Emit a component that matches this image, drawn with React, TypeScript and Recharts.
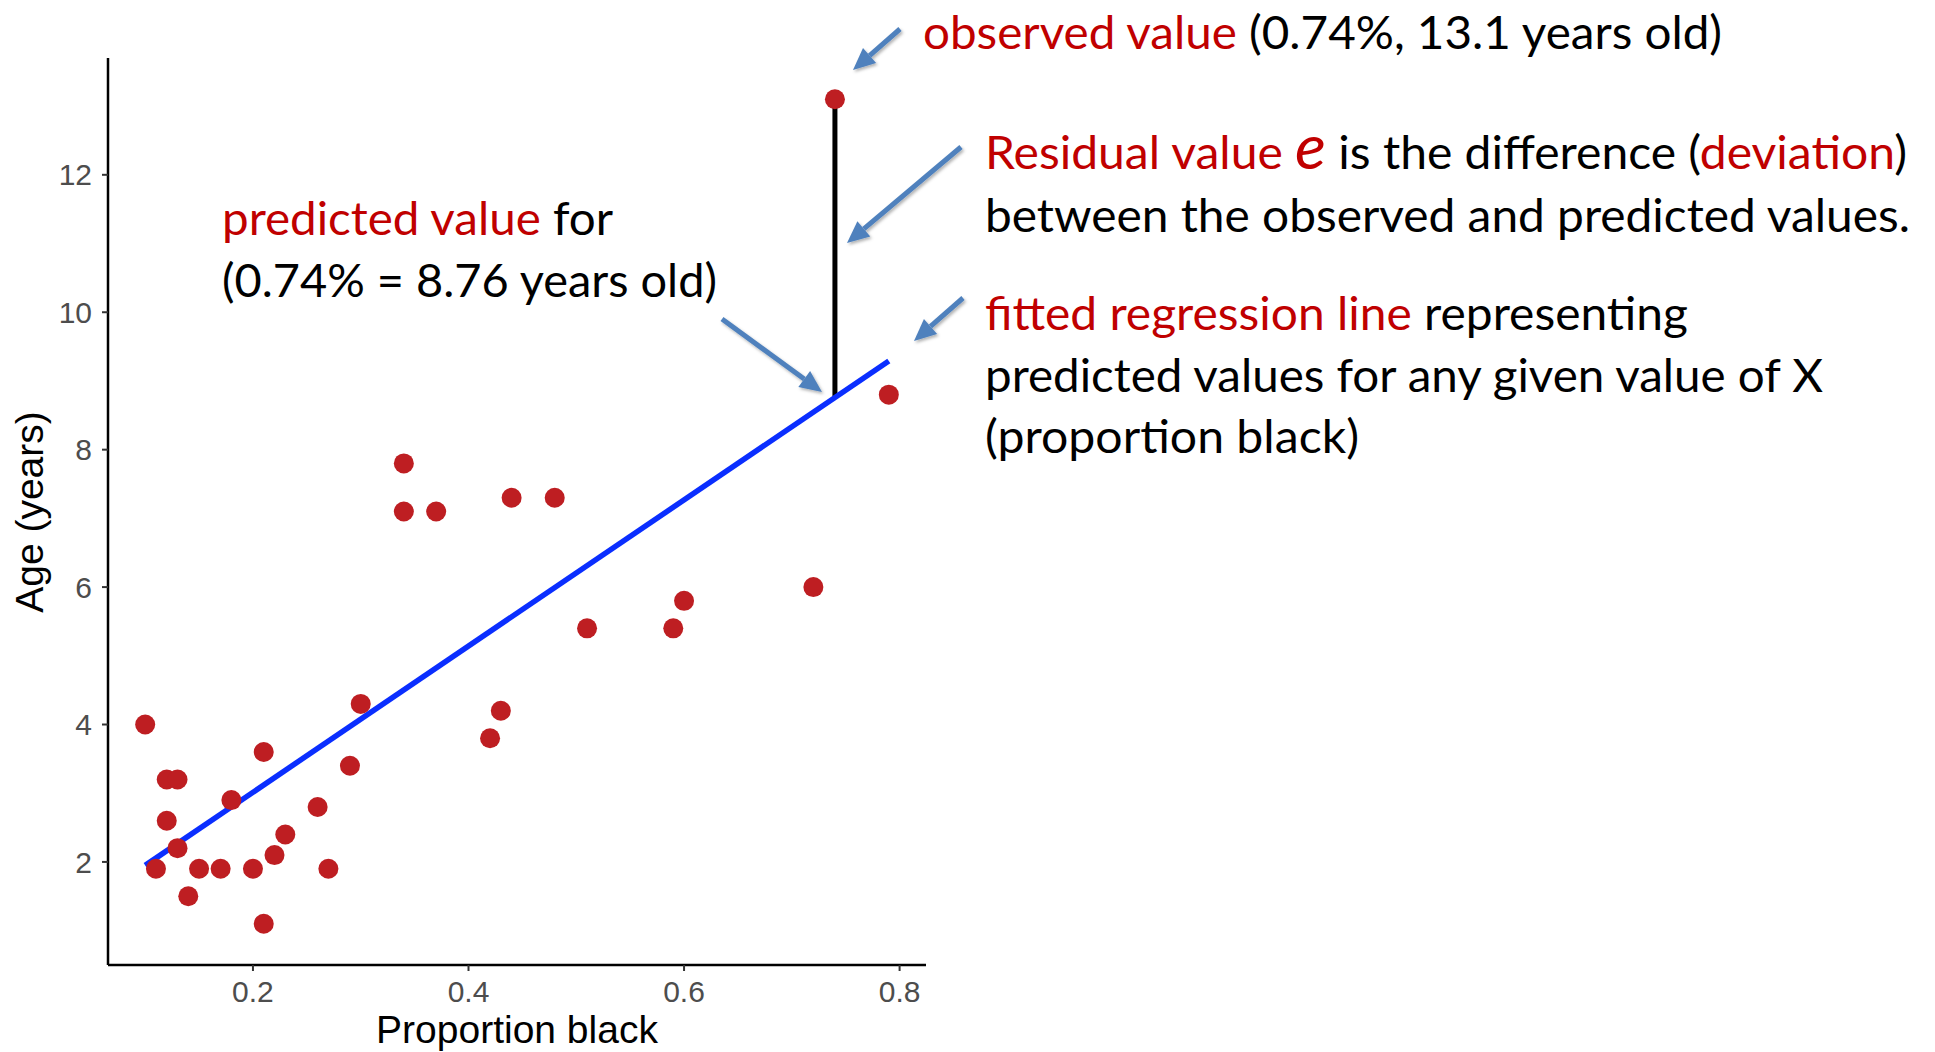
import React from "react";
import { ReferenceLine, Scatter, ScatterChart, XAxis, YAxis } from "recharts";

// observed points
const proportionBlack = [
  0.1, 0.11, 0.12, 0.13, 0.12, 0.13, 0.14, 0.15, 0.17, 0.18, 0.2, 0.21, 0.21,
  0.22, 0.23, 0.26, 0.27, 0.29, 0.3, 0.34, 0.34, 0.37, 0.42, 0.43, 0.44, 0.48,
  0.51, 0.59, 0.6, 0.72, 0.74, 0.79,
];
const ageYears = [
  4.0, 1.9, 3.2, 3.2, 2.6, 2.2, 1.5, 1.9, 1.9, 2.9, 1.9, 3.6, 1.1, 2.1, 2.4,
  2.8, 1.9, 3.4, 4.3, 7.8, 7.1, 7.1, 3.8, 4.2, 7.3, 7.3, 5.4, 5.4, 5.8, 6.0,
  13.1, 8.8,
];

// fitted regression line end points
const fitX = [0.1, 0.79];
const fitY = [1.95, 9.29];

// residual for the highlighted observation
const residualX = 0.74;
const residualObserved = 13.1;
const residualPredicted = 8.76;

const xTicks = [0.2, 0.4, 0.6, 0.8];
const yTicks = [2, 4, 6, 8, 10, 12];

const W = 1935;
const H = 1052;
const DOT = "#be1e22";
const RED = "#c00000";
const ARROW = "#4f81bd";
const AXIS_FONT = "'Liberation Sans', Arial, sans-serif";
const NOTE_FONT = "Lato, 'Open Sans', sans-serif";

const points = proportionBlack.map((x, i) => ({ x, y: ageYears[i] }));

function Arrow({ x1, y1, x2, y2 }: { x1: number; y1: number; x2: number; y2: number }) {
  const a = Math.atan2(y2 - y1, x2 - x1);
  const len = 22;
  const half = 10;
  const bx = x2 - len * Math.cos(a);
  const by = y2 - len * Math.sin(a);
  const px = -Math.sin(a) * half;
  const py = Math.cos(a) * half;
  return (
    <g filter="url(#arrowShadow)">
      <line x1={x1} y1={y1} x2={bx} y2={by} stroke={ARROW} strokeWidth={5} />
      <polygon
        points={`${x2},${y2} ${bx + px},${by + py} ${bx - px},${by - py}`}
        fill={ARROW}
      />
    </g>
  );
}

function Annotations() {
  return (
    <svg
      width={W}
      height={H}
      style={{ position: "absolute", left: 0, top: 0, pointerEvents: "none" }}
    >
      <defs>
        <filter id="arrowShadow" x="-20%" y="-20%" width="140%" height="140%">
          <feDropShadow dx="1.5" dy="2" stdDeviation="1.5" floodColor="#000" floodOpacity="0.3" />
        </filter>
      </defs>

      {/* axis titles */}
      <text x={517} y={1043} textAnchor="middle" fontSize={39} fontFamily={AXIS_FONT} fill="#000">
        Proportion black
      </text>
      <text
        transform="translate(43,512) rotate(-90)"
        textAnchor="middle"
        fontSize={39}
        fontFamily={AXIS_FONT}
        fill="#000"
      >
        Age (years)
      </text>

      <Arrow x1={900} y1={29} x2={853} y2={70} />
      <Arrow x1={961} y1={147} x2={847} y2={243} />
      <Arrow x1={963} y1={298} x2={914} y2={341} />
      <Arrow x1={722} y1={319} x2={822} y2={392} />

      <g fontFamily={NOTE_FONT} fontSize={46} fill="#000">
        <text x={222} y={235} textLength={391} lengthAdjust="spacingAndGlyphs">
          <tspan fill={RED}>predicted value</tspan> for
        </text>
        <text x={222} y={297} textLength={495} lengthAdjust="spacingAndGlyphs">
          (0.74% = 8.76 years old)
        </text>

        <text x={923} y={49} textLength={799} lengthAdjust="spacingAndGlyphs">
          <tspan fill={RED}>observed value</tspan> (0.74%, 13.1 years old)
        </text>
        <text x={985} y={169} textLength={922} lengthAdjust="spacingAndGlyphs">
          <tspan fill={RED}>Residual value </tspan>
          <tspan fill={RED} fontStyle="italic" fontSize={62}>e</tspan> is the difference (
          <tspan fill={RED}>deviation</tspan>)
        </text>
        <text x={985} y={232} textLength={925} lengthAdjust="spacingAndGlyphs">
          between the observed and predicted values.
        </text>
        <text x={985} y={330} textLength={703} lengthAdjust="spacingAndGlyphs">
          <tspan fill={RED}>fitted regression line</tspan> representing
        </text>
        <text x={985} y={392} textLength={838} lengthAdjust="spacingAndGlyphs">
          predicted values for any given value of X
        </text>
        <text x={985} y={453} textLength={374} lengthAdjust="spacingAndGlyphs">
          (proportion black)
        </text>
      </g>
    </svg>
  );
}

export default function App() {
  return (
    <div style={{ position: "absolute", left: 0, top: 0, width: W, height: H, background: "#fff" }}>
      <ScatterChart width={W} height={H} margin={{ top: 58, right: W - 926, bottom: 0, left: 0 }}>
        <XAxis
          type="number"
          dataKey="x"
          domain={[0.0655, 0.8245]}
          ticks={xTicks}
          allowDataOverflow
          height={87}
          tickSize={6}
          tickMargin={10}
          axisLine={{ stroke: "#000", strokeWidth: 2.5 }}
          tickLine={{ stroke: "#333", strokeWidth: 2 }}
          tick={{ fill: "#4d4d4d", fontSize: 30, fontFamily: AXIS_FONT }}
          tickFormatter={(v) => String(v)}
        />
        <YAxis
          type="number"
          dataKey="y"
          domain={[0.5, 13.7]}
          ticks={yTicks}
          allowDataOverflow
          width={108}
          tickSize={6}
          tickMargin={10}
          axisLine={{ stroke: "#000", strokeWidth: 2.5 }}
          tickLine={{ stroke: "#333", strokeWidth: 2 }}
          tick={{ fill: "#4d4d4d", fontSize: 30, fontFamily: AXIS_FONT }}
        />
        <ReferenceLine
          segment={[
            { x: residualX, y: residualObserved },
            { x: residualX, y: residualPredicted },
          ]}
          stroke="#000"
          strokeWidth={5}
          ifOverflow="visible"
        />
        <Scatter
          data={points}
          isAnimationActive={false}
          shape={(p: any) => <circle cx={p.cx} cy={p.cy} r={10} fill={DOT} />}
        />
        <ReferenceLine
          segment={[
            { x: fitX[0], y: fitY[0] },
            { x: fitX[1], y: fitY[1] },
          ]}
          stroke="#0a2eff"
          strokeWidth={5.5}
          ifOverflow="visible"
        />
      </ScatterChart>
      <Annotations />
    </div>
  );
}
